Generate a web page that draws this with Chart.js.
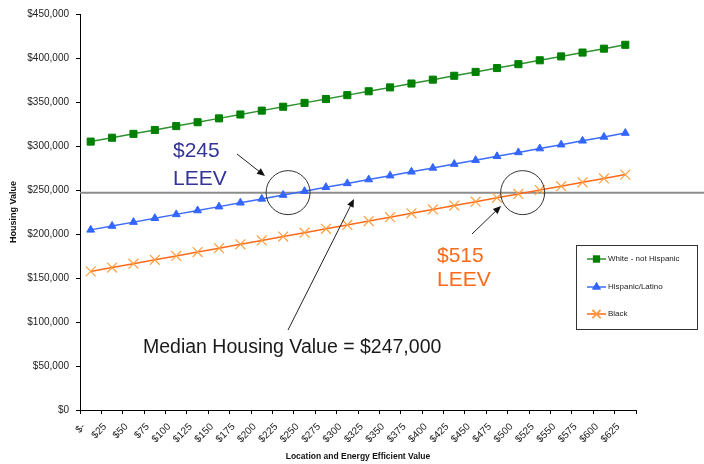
<!DOCTYPE html>
<html>
<head>
<meta charset="utf-8">
<script src="https://cdn.jsdelivr.net/npm/chart.js@4.4.1/dist/chart.umd.min.js"></script>
<style>
  html, body { margin: 0; padding: 0; background: #fff; }
  #wrap { width: 704px; height: 464px; position: relative; }
</style>
</head>
<body>
<div id="wrap"><canvas id="chart"></canvas></div>
<script>
// Kategorien: Location and Energy Efficient Value
const leevLabels = ['$-', '$25', '$50', '$75', '$100', '$125', '$150', '$175', '$200', '$225', '$250', '$275', '$300',
  '$325', '$350', '$375', '$400', '$425', '$450', '$475', '$500', '$525', '$550', '$575', '$600', '$625'];

// Werte
const whiteValues = [305000, 309400, 313800, 318200, 322600, 327000, 331400, 335800, 340200, 344600, 349000, 353400, 357800,
  362200, 366600, 371000, 375400, 379800, 384200, 388600, 393000, 397400, 401800, 406200, 410600, 415000];
const hispanicValues = [204700, 209100, 213500, 217900, 222300, 226700, 231100, 235500, 239900, 244300, 248700, 253100, 257500,
  261900, 266300, 270700, 275100, 279500, 283900, 288300, 292700, 297100, 301500, 305900, 310300, 314700];
const blackValues = [157500, 161900, 166300, 170700, 175100, 179500, 183900, 188300, 192700, 197100, 201500, 205900, 210300,
  214700, 219100, 223500, 227900, 232300, 236700, 241100, 245500, 249900, 254300, 258700, 263100, 267500];

const seriesNames = ['White - not Hispanic', 'Hispanic/Latino', 'Black'];
const medianValue = 247000;
// Kreise um die Schnittpunkte (Kategorie-Index)
const circleIdx = [9.23, 20.2];

// Median-Linie unter den Daten
const medianLine = {
  id: 'medianLine',
  beforeDatasetsDraw(chart) {
    const { ctx, chartArea, scales: { y } } = chart;
    const yy = y.getPixelForValue(medianValue);
    ctx.save();
    ctx.strokeStyle = '#8c8c8c';
    ctx.lineWidth = 2;
    ctx.beginPath();
    ctx.moveTo(chartArea.left, yy);
    ctx.lineTo(chart.width, yy);
    ctx.stroke();
    ctx.restore();
  }
};

function arrow(ctx, x1, y1, x2, y2) {
  const a = Math.atan2(y2 - y1, x2 - x1);
  const len = 8, w = 3.5;
  ctx.beginPath();
  ctx.moveTo(x1, y1);
  ctx.lineTo(x2 - Math.cos(a) * len * 0.8, y2 - Math.sin(a) * len * 0.8);
  ctx.stroke();
  ctx.beginPath();
  ctx.moveTo(x2, y2);
  ctx.lineTo(x2 - Math.cos(a) * len + Math.sin(a) * w, y2 - Math.sin(a) * len - Math.cos(a) * w);
  ctx.lineTo(x2 - Math.cos(a) * len - Math.sin(a) * w, y2 - Math.sin(a) * len + Math.cos(a) * w);
  ctx.closePath();
  ctx.fill();
}

// Anmerkungen: Kreise, Pfeile, Texte
const annotations = {
  id: 'annotations',
  afterDatasetsDraw(chart) {
    const { ctx, scales: { x, y } } = chart;
    const yy = y.getPixelForValue(medianValue);
    ctx.save();
    ctx.strokeStyle = '#333';
    ctx.lineWidth = 1;
    circleIdx.forEach(i => {
      ctx.beginPath();
      ctx.arc(x.getPixelForValue(i), yy, 22, 0, Math.PI * 2);
      ctx.stroke();
    });

    ctx.strokeStyle = '#222';
    ctx.fillStyle = '#111';
    arrow(ctx, 237, 154, 265, 176);
    arrow(ctx, 472, 234, 501, 206);
    arrow(ctx, 288, 330, 354, 199);

    ctx.textBaseline = 'alphabetic';
    ctx.textAlign = 'left';
    ctx.font = '21px Arial, "Liberation Sans"';
    ctx.fillStyle = '#333399';
    ctx.fillText('$245', 173, 157);
    ctx.fillText('LEEV', 173, 185);
    ctx.fillStyle = '#ff6a1a';
    ctx.fillText('$515', 437, 262);
    ctx.fillText('LEEV', 437, 286);

    ctx.font = '19.5px Arial, "Liberation Sans"';
    ctx.fillStyle = '#1a1a1a';
    ctx.fillText('Median Housing Value = $247,000', 143, 353);
    ctx.restore();
  }
};

// Legende mit Rahmen rechts
const boxLegend = {
  id: 'boxLegend',
  afterDraw(chart) {
    const { ctx } = chart;
    ctx.save();
    ctx.strokeStyle = '#333';
    ctx.lineWidth = 1;
    ctx.strokeRect(576.5, 245.5, 121, 84);
    const rows = [259, 287, 314];
    chart.data.datasets.forEach((ds, i) => {
      const yy = rows[i];
      ctx.strokeStyle = ds.borderColor;
      ctx.lineWidth = 1.5;
      ctx.beginPath();
      ctx.moveTo(587, yy);
      ctx.lineTo(606, yy);
      ctx.stroke();
      Chart.helpers.drawPoint(ctx, {
        pointStyle: ds.pointStyle,
        radius: ds.pointRadius * 0.8,
        rotation: 0,
        borderWidth: 1
      }, 596.5, yy);
      ctx.fillStyle = ds.pointBackgroundColor;
      ctx.strokeStyle = ds.pointBorderColor;
      ctx.fill();
      ctx.stroke();
      ctx.fillStyle = '#222';
      ctx.font = '8px Arial, "Liberation Sans"';
      ctx.textBaseline = 'middle';
      ctx.fillText(ds.label, 608, yy);
    });
    ctx.restore();
  }
};

const ctx = document.getElementById('chart').getContext('2d');
new Chart(ctx, {
  type: 'line',
  data: {
    labels: leevLabels,
    datasets: [
      {
        label: seriesNames[0],
        data: whiteValues,
        borderColor: '#2e922e',
        borderWidth: 1.5,
        pointStyle: 'rect',
        pointRadius: 5,
        pointBackgroundColor: '#008000',
        pointBorderColor: '#008000',
        pointBorderWidth: 1
      },
      {
        label: seriesNames[1],
        data: hispanicValues,
        borderColor: '#3d6bff',
        borderWidth: 1.5,
        pointStyle: 'triangle',
        pointRadius: 4.5,
        pointBackgroundColor: '#3366ff',
        pointBorderColor: '#3366ff',
        pointBorderWidth: 1
      },
      {
        label: seriesNames[2],
        data: blackValues,
        borderColor: '#ff6a1a',
        borderWidth: 1.5,
        pointStyle: 'crossRot',
        pointRadius: 7,
        pointBackgroundColor: '#ffa040',
        pointBorderColor: '#ffa040',
        pointBorderWidth: 1.2
      }
    ]
  },
  options: {
    responsive: true,
    maintainAspectRatio: false,
    animation: false,
    layout: { padding: { left: 8, right: 68, top: 14, bottom: 0 } },
    plugins: {
      legend: { display: false },
      tooltip: { enabled: false }
    },
    scales: {
      x: {
        offset: true,
        afterFit: s => { s.height = 54; },
        grid: { drawOnChartArea: false, offset: true, color: '#000', tickLength: 4 },
        border: { color: '#000', width: 1 },
        ticks: {
          autoSkip: false, maxRotation: 45, minRotation: 45,
          color: '#222', font: { family: 'Arial, "Liberation Sans"', size: 10 },
          padding: 7, labelOffset: -7
        },
        title: {
          display: true, text: 'Location and Energy Efficient Value',
          color: '#111', font: { family: 'Arial, "Liberation Sans"', size: 8.5, weight: 'bold' },
          padding: { top: 0, bottom: 2 }
        }
      },
      y: {
        min: 0, max: 450000,
        afterFit: s => { s.width = 72; },
        grid: { drawOnChartArea: false, color: '#000', tickLength: 4 },
        border: { color: '#000', width: 1 },
        ticks: {
          stepSize: 50000, padding: 7,
          color: '#222', font: { family: 'Arial, "Liberation Sans"', size: 10 },
          callback: v => '$' + v.toLocaleString('en-US')
        },
        title: {
          display: true, text: 'Housing Value',
          color: '#111', font: { family: 'Arial, "Liberation Sans"', size: 9, weight: 'bold' },
          padding: 0
        }
      }
    }
  },
  plugins: [medianLine, annotations, boxLegend]
});
</script>
</body>
</html>
